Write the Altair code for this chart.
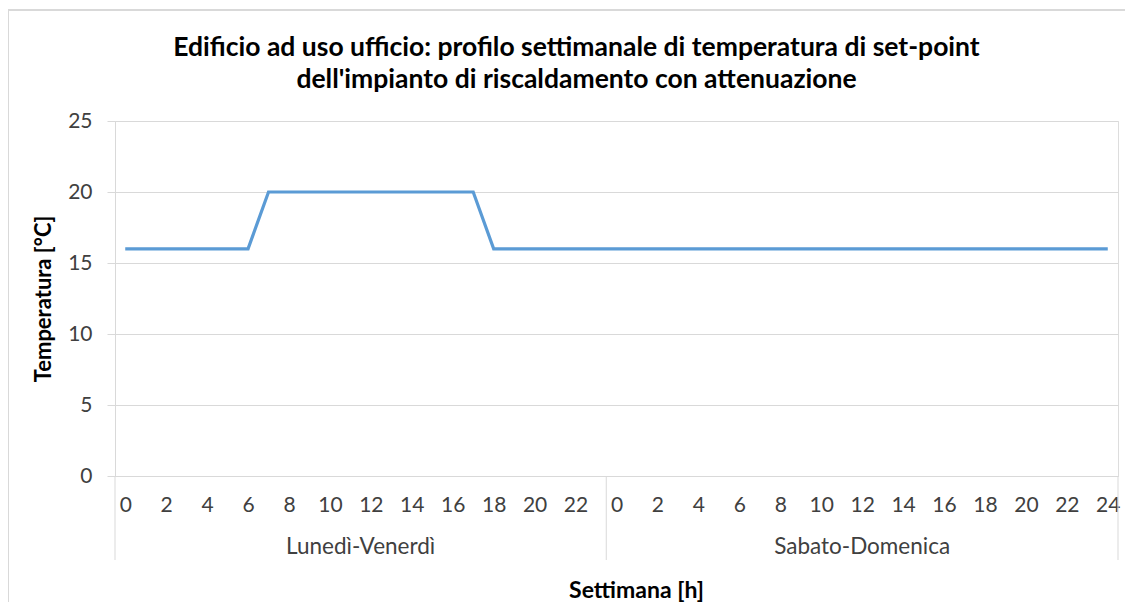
import altair as alt
import pandas as pd

# ---- data ----
groups = ["Lunedì-Venerdì"] * 24 + ["Sabato-Domenica"] * 25
hours = list(range(24)) + list(range(25))
temperature = [16, 16, 16, 16, 16, 16, 16, 20, 20, 20, 20, 20, 20, 20, 20, 20, 20, 20,
               16, 16, 16, 16, 16, 16,
               16, 16, 16, 16, 16, 16, 16, 16, 16, 16, 16, 16, 16, 16, 16, 16, 16, 16,
               16, 16, 16, 16, 16, 16, 16]
group_names = ["Lunedì-Venerdì", "Sabato-Domenica"]
y_ticks = [0, 5, 10, 15, 20, 25]

title_lines = ["Edificio ad uso ufficio: profilo settimanale di temperatura di set-point",
               "dell'impianto di riscaldamento con attenuazione"]

df = pd.DataFrame({"group": groups, "hour": hours, "temp": temperature})
df["idx"] = range(len(df))
n = len(df)

counts = [groups.count(g) for g in group_names]
bounds = [-0.5]
for c in counts:
    bounds.append(bounds[-1] + c)
sep_df = pd.DataFrame({"b": bounds})
grp_df = pd.DataFrame({"group": group_names,
                       "mid": [(bounds[i] + bounds[i + 1]) / 2 for i in range(len(group_names))]})

W, H = 1003, 355
FONT = "Lato"
GRID = "#d9d9d9"
TXT = "#404040"

xscale = alt.Scale(domain=[-0.5, n - 0.5], nice=False, zero=False)
even_idx = [i for i in range(n) if hours[i] % 2 == 0]

xaxis = alt.Axis(values=even_idx,
                 labelExpr="datum.value < 24 ? datum.value : datum.value - 24",
                 grid=False, ticks=False, domainColor=GRID,
                 labelFont=FONT, labelFontSize=21, labelColor=TXT,
                 labelPadding=18, labelFlush=False,
                 title="Settimana [h]", titleFont=FONT, titleFontSize=23,
                 titleFontWeight="bold", titleColor="#000000",
                 titleX=521, titleY=114, titleBaseline="middle")

line = alt.Chart(df).mark_line(color="#5B9BD5", strokeWidth=3.2).encode(
    x=alt.X("idx:Q", scale=xscale, axis=xaxis),
    y=alt.Y("temp:Q", scale=alt.Scale(domain=[0, 25], nice=False),
            axis=alt.Axis(values=y_ticks, grid=True, gridColor=GRID,
                          domainColor=GRID, tickColor=GRID, tickSize=8,
                          labelFont=FONT, labelFontSize=21, labelColor=TXT,
                          labelPadding=15,
                          title="Temperatura [°C]", titleFont=FONT, titleFontSize=22,
                          titleFontWeight="bold", titleColor="#000000",
                          titleX=-72, titleY=H / 2, titleAngle=-90,
                          titleBaseline="middle", titleAlign="center")),
)

seps = alt.Chart(sep_df).mark_rule(color=GRID, strokeWidth=1).encode(
    x=alt.X("b:Q", scale=xscale, axis=xaxis),
    y=alt.value(H), y2=alt.value(H + 84),
)

glabels = alt.Chart(grp_df).mark_text(font=FONT, fontSize=22.5, color=TXT,
                                      baseline="middle").encode(
    x=alt.X("mid:Q", scale=xscale, axis=xaxis),
    y=alt.value(H + 71),
    text="group:N",
)

border_left = alt.Chart(sep_df).mark_rule(color=GRID, strokeWidth=1.5).encode(
    x=alt.value(-107), y=alt.value(-111), y2=alt.value(H + 200))
border_top = alt.Chart(sep_df).mark_rule(color=GRID, strokeWidth=1.5).encode(
    x=alt.value(-107), x2=alt.value(W + 100), y=alt.value(-111))

chart = alt.layer(border_left, border_top, seps, glabels, line).properties(
    width=W, height=H,
    autosize=alt.AutoSizeParams(type="none"),
    padding={"left": 107, "top": 113, "right": 7, "bottom": 126},
    title=alt.TitleParams(text=title_lines, anchor="middle", dx=-40,
                          font=FONT, fontSize=26.5, fontWeight="bold",
                          color="#000000", lineHeight=32, offset=-84),
).configure_view(stroke=None).configure(background="white")

chart.save("out.html", embed_options={"renderer": "svg", "actions": False})
